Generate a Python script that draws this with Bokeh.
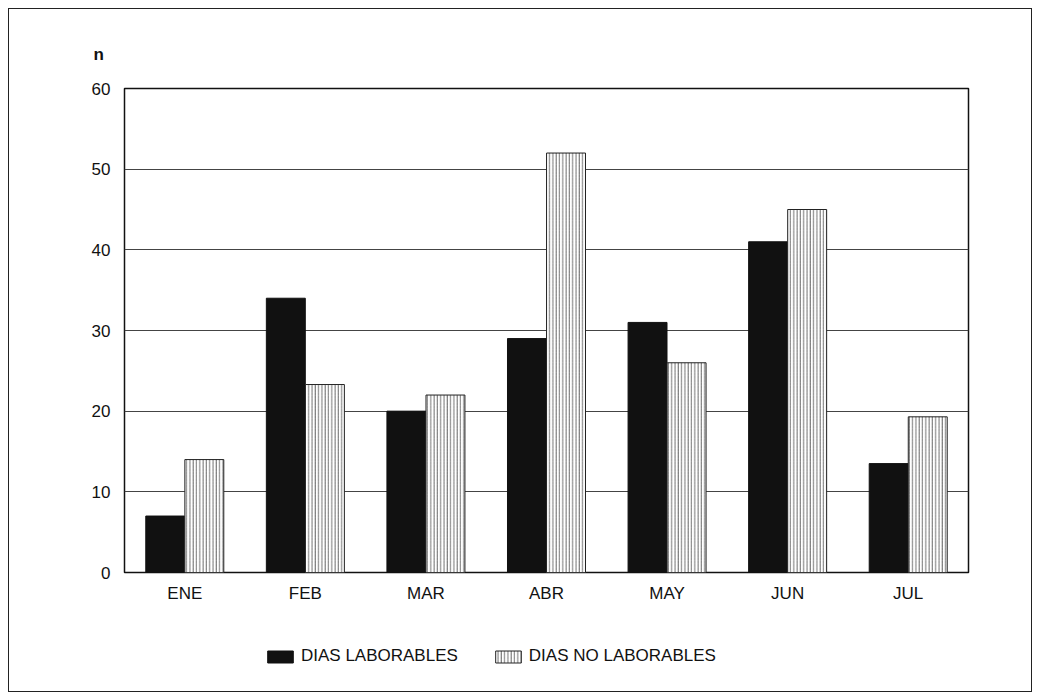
from bokeh.plotting import figure
from bokeh.layouts import column
from bokeh.models import ColumnDataSource, FactorRange, Range1d, Legend, LegendItem, FixedTicker
from bokeh.transform import dodge
from bokeh.embed import file_html
from bokeh.resources import INLINE

months = ["ENE", "FEB", "MAR", "ABR", "MAY", "JUN", "JUL"]
laborables = [7, 34, 20, 29, 31, 41, 13.5]
no_laborables = [14, 23.3, 22, 52, 26, 45, 19.3]
y_ticks = [0, 10, 20, 30, 40, 50, 60]
series_names = ["DIAS LABORABLES", "DIAS NO LABORABLES"]

FONT = "Liberation Sans"
BLACK_BAR = dict(fill_color="#111111", line_color="#111111", line_width=1)
HATCH_BAR = dict(fill_color="white", line_color="#222222", line_width=1,
                 hatch_pattern="|", hatch_color="#444444", hatch_scale=3.3, hatch_weight=0.8)

src = ColumnDataSource(dict(month=months, lab=laborables, nolab=no_laborables))

p = figure(x_range=FactorRange(*months, range_padding=0), y_range=Range1d(0, 60),
           width=1022, height=600, output_backend="svg", toolbar_location=None,
           min_border_left=115, min_border_right=63, min_border_top=79, min_border_bottom=37,
           title="n")

p.vbar(x=dodge("month", -0.162, range=p.x_range), top="lab", width=0.323, source=src, **BLACK_BAR)
p.vbar(x=dodge("month", 0.162, range=p.x_range), top="nolab", width=0.323, source=src, **HATCH_BAR)

p.title.align = "left"
p.title.offset = -31
p.title.standoff = 49
p.title.text_font = FONT
p.title.text_font_size = "17px"
p.title.text_font_style = "bold"
p.title.text_color = "#111111"

p.outline_line_color = "#111111"
p.outline_line_width = 1.5
p.xgrid.grid_line_color = None
p.ygrid.grid_line_color = "#444444"
p.ygrid.grid_line_width = 1
p.yaxis.ticker = FixedTicker(ticks=y_ticks)

for ax in (p.xaxis, p.yaxis):
    ax.axis_line_color = None
    ax.major_tick_line_color = None
    ax.minor_tick_line_color = None
    ax.major_label_text_font = FONT
    ax.major_label_text_font_size = "17px"
    ax.major_label_text_color = "#111111"
p.yaxis.major_label_standoff = 8
p.xaxis.major_label_standoff = 5

# legend strip (its frame is aligned with the main frame by the column layout)
lg = figure(width=1022, height=82, x_range=Range1d(0, 1), y_range=Range1d(0, 1),
            output_backend="svg", toolbar_location=None,
            min_border_left=0, min_border_right=0, min_border_top=0, min_border_bottom=0)
lg.axis.visible = False
lg.grid.visible = False
lg.outline_line_color = None
proxy = ColumnDataSource(dict(x=[0.5], top=[float("nan")]))
d1 = lg.vbar(x="x", top="top", width=0.1, source=proxy, **BLACK_BAR)
d2 = lg.vbar(x="x", top="top", width=0.1, source=proxy, **HATCH_BAR)

legend = Legend(items=[LegendItem(label=series_names[0], renderers=[d1]),
                       LegendItem(label=series_names[1], renderers=[d2])],
                orientation="horizontal", location=(140, 25))
legend.label_text_font = FONT
legend.label_text_font_size = "17px"
legend.label_text_color = "#111111"
legend.glyph_width = 32
legend.glyph_height = 15
legend.spacing = 34
legend.label_standoff = 5
legend.border_line_color = None
legend.background_fill_alpha = 0
legend.margin = 0
legend.padding = 0
legend.label_height = 20
lg.add_layout(legend, "center")

layout = column(p, lg, spacing=0)
layout.margin = (8, 0, 0, 8)
layout.styles = {"border": "1px solid #222"}

open("out.html", "w").write(file_html(layout, INLINE))
